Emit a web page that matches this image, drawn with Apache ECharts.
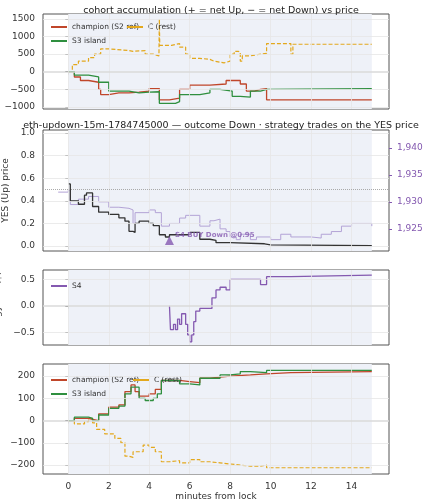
<!DOCTYPE html>
<html>
<head>
<meta charset="utf-8">
<script src="https://cdn.jsdelivr.net/npm/echarts@6/dist/echarts.min.js"></script>
<style>body{margin:0;background:#fff}#c{width:425px;height:500px}</style>
</head>
<body>
<div id="c"></div>
<script>
// panel 1: accumulated net YES (shares)
var accChampT = [0,0.3,0.6,1,1.5,1.6,2,2.5,3,3.5,4,4.5,5,5.5,6,7,7.8,8.5,8.8,9.2,9.5,9.8,15];
var accChampV = [0,-150,-250,-300,-500,-650,-600,-600,-580,-550,-480,-800,-750,-500,-380,-350,-250,-350,-550,-500,-480,-800,-780];
var accS3T = [0,0.3,1,1.5,2,3,3.5,4,4.5,5.3,5.5,6.5,7,7.5,8.1,8.5,9,9.5,9.8,15];
var accS3V = [0,-100,-150,-300,-550,-600,-580,-570,-900,-850,-650,-600,-500,-550,-700,-720,-550,-500,-480,-480];
var accCT = [0,0.2,0.5,1,1.3,1.6,2,3,3.2,3.8,4.2,4.48,4.5,4.52,5.1,5.5,5.8,6,6.5,7,7.2,7.7,8,8.2,8.4,8.5,8.6,9,9.5,9.8,10.9,11,11.1,15];
var accCV = [0,200,300,400,500,650,600,580,600,500,450,500,1500,750,800,700,500,380,350,300,250,300,500,580,550,300,450,500,520,800,800,500,780,780];
// panel 2: YES price + ETH
var yesT = [0,0.1,0.5,0.8,0.9,1.2,1.5,2,2.5,2.8,3,3.2,3.3,3.5,4,4.2,4.5,4.8,5,5.5,6,6.5,7,7.3,8,9.7,10,15];
var yesV = [0.55,0.4,0.37,0.45,0.47,0.35,0.3,0.28,0.25,0.22,0.13,0.12,0.2,0.22,0.2,0.18,0.1,0.08,0.1,0.1,0.12,0.06,0.05,0.03,0.02,0.01,0.003,0.003];
var ethT = [-0.5,0,0.1,0.5,1,1.5,2,2.5,3,3.2,3.3,4,4.3,4.6,5,5.5,5.8,6.5,7,7.2,7.5,7.8,8,8.3,8.5,9,9.3,10,10.5,11,12,12.5,13,13.5,14,15];
var ethV = [1931.8,1932.2,1929.5,1930.5,1931,1930,1929,1928.8,1928.5,1926,1928,1928.5,1928,1925.5,1926,1927,1927.5,1925.5,1926.5,1926.8,1925,1924.5,1923.5,1923,1924,1923,1923.5,1923,1924,1923.5,1923.3,1924,1924.5,1925.5,1926,1925.5];
var tradeT = 5, tradeV = 0.05, tradeLabel = 'S4 BUY Down @0.95';
// panel 3: strategy PnL
var s4T = [5,5.05,5.2,5.3,5.4,5.5,5.6,5.8,5.9,6,6.1,6.2,6.3,6.5,7,7.1,7.3,7.5,7.8,8,9,9.5,9.8,11,15];
var s4V = [0,-0.45,-0.35,-0.45,-0.25,-0.35,-0.15,-0.35,-0.55,-0.68,-0.55,-0.3,-0.1,-0.05,-0.05,0.15,0.3,0.35,0.3,0.5,0.5,0.4,0.55,0.58,0.59];
// panel 4: cohort moving PnL
var pnlChampT = [0,0.3,1,1.2,1.5,2,2.5,2.8,3.1,3.3,3.5,4,4.3,4.6,5,5.5,6,6.5,7,7.5,8,9,9.8,11,15];
var pnlChampV = [0,10,5,0,30,60,70,130,160,130,110,120,140,180,180,175,170,190,195,200,205,210,215,220,220];
var pnlS3T = [0,0.3,1,1.2,1.5,2,2.5,2.8,3.1,3.5,3.8,4.2,4.4,4.6,5,5.5,6,6.5,7,7.5,8,8.5,9,9.8,11,15];
var pnlS3V = [0,15,10,0,25,55,65,120,150,100,90,100,120,180,180,165,160,190,190,205,210,220,215,225,225,225];
var pnlCT = [0,0.3,0.8,1,1.2,1.4,1.8,2.3,2.6,2.8,3,3.2,3.7,4,4.3,4.6,5,5.5,6,6.5,7,7.5,8,8.5,9,9.5,9.8,15];
var pnlCV = [0,-15,-5,10,-10,-40,-60,-80,-100,-160,-165,-140,-110,-120,-140,-185,-180,-190,-175,-185,-190,-195,-200,-205,-205,-200,-212,-215];

var xTicks = [0,2,4,6,8,10,12,14];
var accTicks = [-1000,-500,0,500,1000,1500];
var yesTicks = [0,0.2,0.4,0.6,0.8,1.0];
var s4Ticks = [-0.5,0,0.5];
var pnlTicks = [-200,-100,0,100,200];
var ethTicks = [1925,1930,1935,1940];

var RED = '#c0462a', GREEN = '#2f8f3f', ORANGE = '#e3a81c', PURPLE = '#8459b0', ETHC = '#b3a3d6';
var FONT = 'DejaVu Sans';

function zip(t, v){ return t.map(function(x, i){ return [x, v[i]]; }); }
function minus(v){ return String(v).replace('-', '\u2212'); }

var grids = [
  {top:14, height:95},
  {top:130, height:121},
  {top:270, height:75},
  {top:364, height:110}
];
grids.forEach(function(g){
  g.left = 43; g.width = 346; g.show = true; g.borderColor = '#555'; g.borderWidth = 1;
  g.backgroundColor = '#fff'; g.containLabel = false; g.outerBoundsMode = 'none';
});

function xAx(i, labels){
  return {type:'value', gridIndex:i, min:-1.25, max:15.85,
    axisLabel:{show:labels, fontSize:9, color:'#333', fontFamily:FONT, customValues:xTicks},
    axisTick:{show:true, length:3, lineStyle:{color:'#333'}, customValues:xTicks},
    axisLine:{show:false}, splitLine:{show:false},
    name: labels ? 'minutes from lock' : '', nameLocation:'middle', nameGap:18,
    nameTextStyle:{fontSize:9, color:'#333', fontFamily:FONT}};
}
function yAx(i, min, max, ticks, name, fmt){
  return {type:'value', gridIndex:i, min:min, max:max,
    axisLabel:{fontSize:9, color:'#333', fontFamily:FONT, formatter:fmt, customValues:ticks},
    axisTick:{show:true, length:3, lineStyle:{color:'#333'}, customValues:ticks},
    axisLine:{show:false}, splitLine:{show:false},
    name:name, nameLocation:'middle', nameGap:30, nameTextStyle:{fontSize:9, color:'#333', fontFamily:FONT}};
}

function shade(){ return {silent:true, itemStyle:{color:'#eef1f8'}, data:[[{xAxis:0},{xAxis:15}]]}; }
function grid(ys, extra){
  var d = xTicks.map(function(x){ return {xAxis:x}; }).concat(ys.map(function(y){ return {yAxis:y}; }));
  if (extra) d = d.concat(extra);
  return {silent:true, symbol:'none', label:{show:false}, lineStyle:{color:'#e6e6e6', type:'solid', width:0.8}, data:d};
}

function line(name, xi, yi, t, v, color, opts){
  var s = {name:name, type:'line', xAxisIndex:xi, yAxisIndex:yi, data:zip(t, v), step:'end',
    symbol:'none', lineStyle:{color:color, width:1.3}, itemStyle:{color:color}, z:3};
  for (var k in opts) s[k] = opts[k];
  return s;
}

function legend(names, left, top, vert){
  return {data:names, left:left, top:top, orient:vert ? 'vertical' : 'horizontal', icon:'rect',
    itemWidth:16, itemHeight:2, itemGap:6, textStyle:{fontSize:7.5, color:'#333', fontFamily:FONT}, selectedMode:false};
}

var option = {
  backgroundColor:'#fff',
  animation:false,
  title:[
    {text:'cohort accumulation (+ = net Up, \u2212 = net Down) vs price', left:216, top:1, textAlign:'center',
      textStyle:{fontSize:9.5, fontWeight:'normal', color:'#222', fontFamily:FONT}},
    {text:'eth-updown-15m-1784745000 \u2014 outcome Down \u00b7 strategy trades on the YES price', left:216, top:116, textAlign:'center',
      textStyle:{fontSize:9.5, fontWeight:'normal', color:'#222', fontFamily:FONT}}
  ],
  legend:[
    legend(['champion (S2 ref)','S3 island'], 46, 18, true),
    legend(['C (rest)'], 122, 18, false),
    legend(['S4'], 46, 277, false),
    legend(['champion (S2 ref)','S3 island'], 46, 371, true),
    legend(['C (rest)'], 128, 371, false)
  ],
  grid:grids,
  xAxis:[xAx(0,false), xAx(1,false), xAx(2,false), xAx(3,true)],
  yAxis:[
    yAx(0, -1060, 1640, accTicks, 'acc. net YES (shares)', function(v){ return minus(v); }),
    yAx(1, -0.044, 1.027, yesTicks, 'YES (Up) price', function(v){ return v.toFixed(1); }),
    yAx(2, -0.74, 0.675, s4Ticks, 'strategy PnL ($)', function(v){ return minus(v.toFixed(1)); }),
    yAx(3, -240, 254, pnlTicks, 'cohort moving PnL ($)', function(v){ return minus(v); }),
    {type:'value', gridIndex:1, position:'right', min:1920.9, max:1943.3, splitLine:{show:false},
      axisTick:{show:true, length:3, lineStyle:{color:PURPLE}, customValues:ethTicks},
      axisLabel:{fontSize:9, color:PURPLE, fontFamily:FONT, customValues:ethTicks},
      axisLine:{show:false}, name:'ETH/USD (strike dotted = YES 0.5)', nameLocation:'middle', nameGap:27,
      nameTextStyle:{fontSize:7.5, color:PURPLE, fontFamily:FONT}}
  ],
  series:[
    line('C (rest)', 0, 0, accCT, accCV, ORANGE, {lineStyle:{color:ORANGE, width:1.2, type:[4,2]}, markArea:shade(),
      markLine:grid([-1000,-500,500,1000,1500], [{yAxis:0, lineStyle:{color:'#dadada', width:1.5}}])}),
    line('champion (S2 ref)', 0, 0, accChampT, accChampV, RED, {}),
    line('S3 island', 0, 0, accS3T, accS3V, GREEN, {}),

    line('ETH', 1, 4, ethT, ethV, ETHC, {lineStyle:{color:ETHC, width:1}, markArea:shade()}),
    line('YES', 1, 1, yesT, yesV, '#333', {markLine:grid(yesTicks, [{yAxis:0.5, lineStyle:{color:'#aaa', type:'dotted', width:1}}])}),
    {type:'scatter', xAxisIndex:1, yAxisIndex:1, data:[[tradeT, tradeV]], symbol:'triangle', symbolSize:9,
      itemStyle:{color:PURPLE}, z:5,
      label:{show:true, formatter:tradeLabel, position:'right', offset:[-4,-5], fontSize:7, fontWeight:'bold', color:PURPLE, fontFamily:FONT}},

    line('S4', 2, 2, s4T, s4V, PURPLE, {lineStyle:{color:PURPLE, width:1.3}, markArea:shade(),
      markLine:grid([-0.5,0.5], [{yAxis:0, lineStyle:{color:'#dadada', width:1.5}}])}),

    line('C (rest)', 3, 3, pnlCT, pnlCV, ORANGE, {lineStyle:{color:ORANGE, width:1.2, type:[4,2]}, markArea:shade(),
      markLine:grid([-200,-100,100,200], [{yAxis:0, lineStyle:{color:'#dadada', width:1.5}}])}),
    line('champion (S2 ref)', 3, 3, pnlChampT, pnlChampV, RED, {}),
    line('S3 island', 3, 3, pnlS3T, pnlS3V, GREEN, {})
  ]
};
echarts.init(document.getElementById('c')).setOption(option);
</script>
</body>
</html>
